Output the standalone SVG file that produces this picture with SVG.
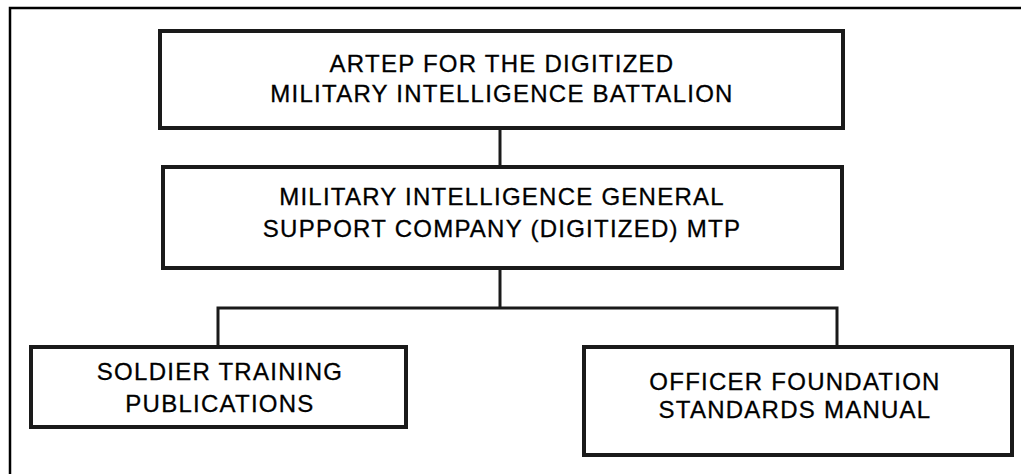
<svg xmlns="http://www.w3.org/2000/svg" width="1021" height="474" viewBox="0 0 1021 474">
<style>
.box{fill:#fff;stroke:#1a1a1a;stroke-width:4}
.ln{fill:none;stroke:#1a1a1a;stroke-width:3}
.frame{fill:none;stroke:#000;stroke-width:2.5}
text{font-family:"Liberation Sans",Arial,sans-serif;font-size:24px;letter-spacing:1.25px;fill:#000;stroke:#000;stroke-width:0.3;text-anchor:middle}
</style>
<rect width="1021" height="474" fill="#fff"/>
<path class="frame" d="M10,474 V8 H1021"/>
<g id="connectors">
<path class="ln" d="M500,128 V167"/>
<path class="ln" d="M500,268 V308"/>
<path class="ln" d="M218,347 V308 H837 V347"/>
</g>
<g id="n1">
<rect class="box" x="160" y="31" width="683" height="97"/>
<text x="502" y="72">ARTEP FOR THE DIGITIZED</text>
<text x="502" y="102">MILITARY INTELLIGENCE BATTALION</text>
</g>
<g id="n2">
<rect class="box" x="163" y="167" width="679" height="101"/>
<text x="502" y="205">MILITARY INTELLIGENCE GENERAL</text>
<text x="502" y="237">SUPPORT COMPANY (DIGITIZED) MTP</text>
</g>
<g id="n3">
<rect class="box" x="31" y="347" width="375" height="80"/>
<text x="220" y="380">SOLDIER TRAINING</text>
<text x="220" y="412">PUBLICATIONS</text>
</g>
<g id="n4">
<rect class="box" x="584" y="347" width="428" height="108"/>
<text x="795" y="390">OFFICER FOUNDATION</text>
<text x="795" y="418">STANDARDS MANUAL</text>
</g>
</svg>
